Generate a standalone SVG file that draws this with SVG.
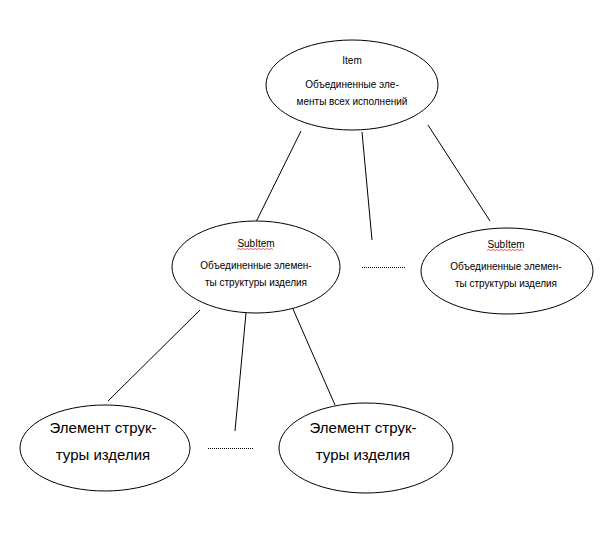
<svg xmlns="http://www.w3.org/2000/svg" width="602" height="533" viewBox="0 0 602 533">
<style>
.n{fill:#fff;stroke:#000;stroke-width:1}
.s{font-family:"Liberation Sans","DejaVu Sans",sans-serif;font-size:10px;fill:#000;text-anchor:middle}
.b{font-family:"Liberation Sans","DejaVu Sans",sans-serif;font-size:15px;fill:#000;text-anchor:middle}
.c{stroke:#000;stroke-width:1;fill:none}
.d{stroke:#000;stroke-width:1;stroke-dasharray:1 1;fill:none}
.w{stroke:#d02020;stroke-width:0.7;fill:none}
</style>
<rect width="602" height="533" fill="#fff"/>
<g id="connectors">
<line class="c" x1="301" y1="131" x2="255" y2="224"/>
<line class="c" x1="362" y1="132" x2="372" y2="240"/>
<line class="c" x1="428" y1="125" x2="490" y2="221"/>
<line class="d" x1="362" y1="267.5" x2="406" y2="267.5"/>
<line class="c" x1="200" y1="310" x2="108" y2="401"/>
<line class="c" x1="246" y1="313" x2="235" y2="431"/>
<line class="c" x1="293" y1="309" x2="335" y2="405"/>
<line class="d" x1="208" y1="448.5" x2="253" y2="448.5"/>
</g>
<g id="item">
<ellipse class="n" cx="352" cy="85" rx="86" ry="45"/>
<text class="s" x="352" y="64">Item</text>
<text class="s" x="352" y="88">Объединенные эле-</text>
<text class="s" x="352" y="105">менты всех исполнений</text>
</g>
<g id="subitem1">
<ellipse class="n" cx="256" cy="267" rx="84" ry="46"/>
<text class="s" x="256" y="247">SubItem</text>
<path class="w" d="M237 249.5 l2 -1 l2 1 l2 -1 l2 1 l2 -1 l2 1 l2 -1 l2 1 l2 -1 l2 1 l2 -1 l2 1 l2 -1 l2 1 l2 -1 l2 1 l2 -1 l2 1"/>
<text class="s" x="256" y="269">Объединенные элемен-</text>
<text class="s" x="256" y="286">ты структуры изделия</text>
</g>
<g id="subitem2">
<ellipse class="n" cx="507" cy="271" rx="86" ry="43"/>
<text class="s" x="506" y="248">SubItem</text>
<path class="w" d="M487 250.5 l2 -1 l2 1 l2 -1 l2 1 l2 -1 l2 1 l2 -1 l2 1 l2 -1 l2 1 l2 -1 l2 1 l2 -1 l2 1 l2 -1 l2 1 l2 -1 l2 1"/>
<text class="s" x="506" y="270">Объединенные элемен-</text>
<text class="s" x="506" y="287">ты структуры изделия</text>
</g>
<g id="element1">
<ellipse class="n" cx="105" cy="448" rx="85" ry="43"/>
<text class="b" x="103" y="433">Элемент струк-</text>
<text class="b" x="103" y="460">туры изделия</text>
</g>
<g id="element2">
<ellipse class="n" cx="366" cy="448" rx="87" ry="45"/>
<text class="b" x="363" y="433">Элемент струк-</text>
<text class="b" x="363" y="460">туры изделия</text>
</g>
</svg>
